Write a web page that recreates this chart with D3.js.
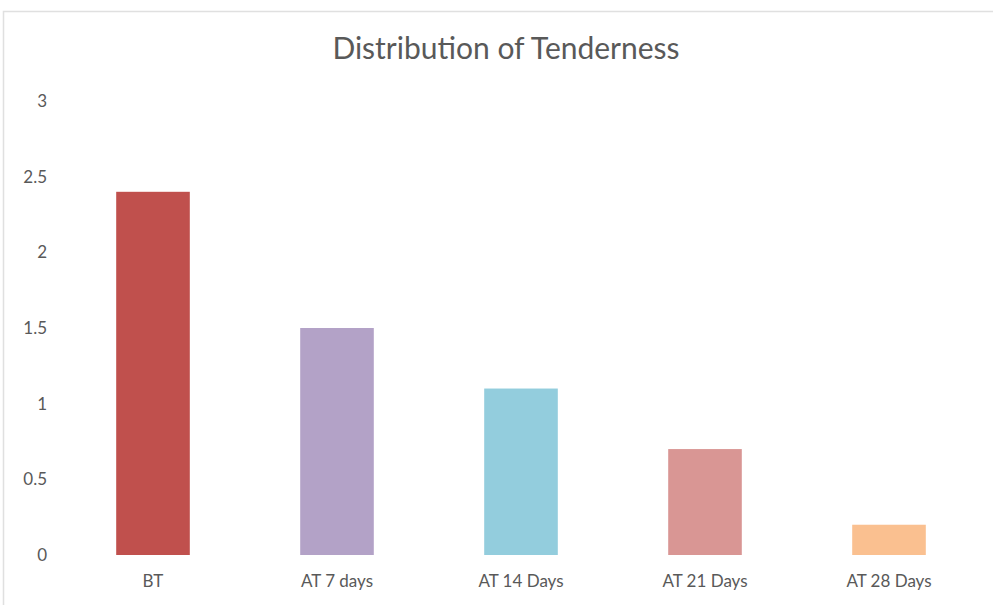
<!DOCTYPE html>
<html>
<head>
<meta charset="utf-8">
<script src="https://cdn.jsdelivr.net/npm/d3@7"></script>
<style>
  body { margin: 0; background: #fff; }
  text { font-family: Lato, "Open Sans", sans-serif; fill: #595959; }
</style>
</head>
<body>
<div class="chart"></div>
<script>
const categories = ["BT", "AT 7 days", "AT 14 Days", "AT 21 Days", "AT 28 Days"];
const values = [2.4, 1.5, 1.1, 0.7, 0.2];
const barColors = ["#c0504d", "#b3a2c7", "#93cddd", "#d99694", "#fac090"];
const yTicks = [0, 0.5, 1, 1.5, 2, 2.5, 3];

const width = 993;
const height = 605;

const svg = d3.select(".chart")
    .append("svg")
    .attr("width", width)
    .attr("height", height);

// chart frame
svg.append("rect")
    .attr("x", 3.5)
    .attr("y", 11.5)
    .attr("width", width + 10)
    .attr("height", height)
    .attr("fill", "none")
    .attr("stroke", "#e0e0e0")
    .attr("stroke-width", 1.5);

const x = d3.scaleBand()
    .domain(categories)
    .range([61, 981])
    .paddingInner(0.6)
    .paddingOuter(0.3);

const y = d3.scaleLinear()
    .domain([0, 3])
    .range([555, 101]);

svg.append("text")
    .attr("x", 506)
    .attr("y", 59)
    .attr("text-anchor", "middle")
    .style("font-size", "30px")
    .text("Distribution of Tenderness");

// y axis, labels only
const yAxis = svg.append("g")
    .attr("transform", "translate(47,0)")
    .call(d3.axisLeft(y).tickValues(yTicks).tickFormat(d3.format("")).tickSize(0).tickPadding(0));

yAxis.select(".domain").remove();
yAxis.selectAll("text")
    .style("font-size", "17px")
    .style("font-family", "Lato, 'Open Sans', sans-serif")
    .attr("fill", "#595959");

svg.selectAll("rect.bar")
    .data(categories)
    .enter()
    .append("rect")
    .attr("class", "bar")
    .attr("x", d => x(d))
    .attr("y", (d, i) => y(values[i]))
    .attr("width", x.bandwidth())
    .attr("height", (d, i) => y(0) - y(values[i]))
    .attr("fill", (d, i) => barColors[i]);

const xAxis = svg.append("g")
    .attr("transform", "translate(0,555)")
    .call(d3.axisBottom(x).tickSize(0).tickPadding(20));

xAxis.select(".domain").remove();
xAxis.selectAll("text")
    .style("font-size", "17px")
    .style("font-family", "Lato, 'Open Sans', sans-serif")
    .attr("fill", "#595959");
</script>
</body>
</html>
